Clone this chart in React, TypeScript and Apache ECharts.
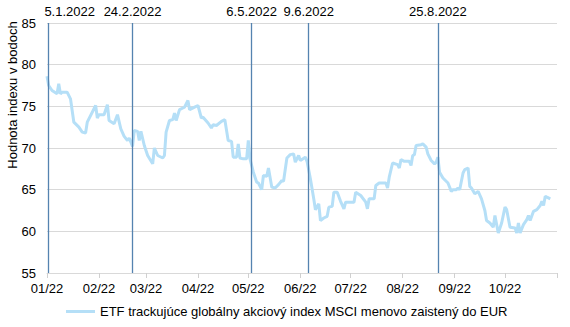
import React, { useEffect, useRef } from "react";
import * as echarts from "echarts";

const seriesName = "ETF trackujúce globálny akciový index MSCI menovo zaistený do EUR";
const yAxisName = "Hodnota indexu v bodoch";

const dates = [
  "2022-01-04","2022-01-05","2022-01-07","2022-01-10","2022-01-11","2022-01-12","2022-01-13","2022-01-16","2022-01-18","2022-01-20","2022-01-23","2022-01-25","2022-01-27","2022-01-28",
  "2022-02-02","2022-02-03","2022-02-04","2022-02-07","2022-02-09","2022-02-10","2022-02-13","2022-02-15","2022-02-17","2022-02-19","2022-02-21","2022-02-22","2022-02-24","2022-02-25","2022-02-27","2022-02-28",
  "2022-03-01","2022-03-03","2022-03-05","2022-03-08","2022-03-09","2022-03-11","2022-03-14","2022-03-15","2022-03-16","2022-03-18","2022-03-20","2022-03-21","2022-03-22","2022-03-24","2022-03-26","2022-03-27","2022-03-29","2022-03-30",
  "2022-04-02","2022-04-04","2022-04-06","2022-04-07","2022-04-10","2022-04-12","2022-04-13","2022-04-15","2022-04-18","2022-04-20","2022-04-22","2022-04-24","2022-04-25","2022-04-27","2022-04-28","2022-04-29",
  "2022-05-01","2022-05-03","2022-05-04","2022-05-05","2022-05-07","2022-05-09","2022-05-10","2022-05-12","2022-05-13","2022-05-15","2022-05-16","2022-05-18","2022-05-20","2022-05-22","2022-05-24","2022-05-25","2022-05-27","2022-05-29","2022-05-31",
  "2022-06-01","2022-06-03","2022-06-04","2022-06-07","2022-06-08","2022-06-10","2022-06-12","2022-06-13","2022-06-15","2022-06-16","2022-06-18","2022-06-20","2022-06-21","2022-06-23","2022-06-24","2022-06-26","2022-06-28","2022-06-30",
  "2022-07-01","2022-07-06","2022-07-07","2022-07-10","2022-07-13","2022-07-14","2022-07-15","2022-07-18","2022-07-19","2022-07-21","2022-07-25","2022-07-26","2022-07-27","2022-07-29",
  "2022-08-01","2022-08-02","2022-08-03","2022-08-05","2022-08-08","2022-08-09","2022-08-10","2022-08-11","2022-08-12","2022-08-15","2022-08-16","2022-08-18","2022-08-19","2022-08-21","2022-08-23","2022-08-24","2022-08-25","2022-08-26","2022-08-28","2022-08-31",
  "2022-09-02","2022-09-03","2022-09-05","2022-09-06","2022-09-07","2022-09-09","2022-09-10","2022-09-12","2022-09-13","2022-09-14","2022-09-16","2022-09-18","2022-09-20","2022-09-22","2022-09-23","2022-09-25","2022-09-27","2022-09-28","2022-09-30",
  "2022-10-02","2022-10-04","2022-10-05","2022-10-07","2022-10-10","2022-10-11","2022-10-12","2022-10-13","2022-10-15","2022-10-17","2022-10-18","2022-10-19","2022-10-21","2022-10-23","2022-10-25","2022-10-26","2022-10-27","2022-10-28","2022-10-29","2022-10-31",
];

const values = [
  78.6,77.5,76.9,76.5,77.7,76.5,76.7,76.7,75.9,73.1,72.5,71.9,71.8,73.1,
  75.1,73.6,74.0,74.0,75.2,73.3,72.9,74.0,72.3,71.4,70.9,71.2,70.2,72.1,72.0,70.9,
  72.0,70.3,69.1,68.1,70.0,69.1,68.8,69.1,71.9,73.3,73.4,74.2,73.3,74.6,74.8,74.9,75.7,74.6,
  74.9,75.1,73.6,73.7,73.0,72.4,72.8,72.7,73.2,73.4,70.9,70.8,68.9,68.9,70.5,68.8,
  68.7,68.7,70.9,68.7,67.1,65.9,65.8,65.0,66.7,66.6,67.6,65.3,65.2,65.6,66.1,66.0,68.8,69.2,69.3,
  68.3,69.1,68.5,68.9,68.4,66.3,63.9,62.6,63.3,61.3,61.6,61.8,62.9,63.0,64.7,64.7,63.6,62.7,
  63.5,63.5,64.7,64.3,63.5,62.7,63.9,63.9,65.5,65.8,65.8,65.2,66.5,68.2,
  68.0,67.6,68.6,68.4,68.4,67.9,69.1,69.2,70.3,70.4,70.5,70.1,69.3,68.5,68.1,68.3,68.9,67.1,66.4,65.8,
  64.8,65.0,65.0,65.2,65.0,67.0,67.4,67.6,65.4,65.2,64.5,64.8,63.9,62.5,61.3,61.0,60.5,61.9,59.8,
  61.0,62.9,62.6,60.5,60.4,59.8,61.0,59.8,60.8,61.4,61.9,61.3,62.4,62.6,63.1,63.6,63.1,64.2,64.1,63.9,
];

const eventDates = ["2022-01-05", "2022-02-24", "2022-05-06", "2022-06-09", "2022-08-25"];
const eventLabels = ["5.1.2022", "24.2.2022", "6.5.2022", "9.6.2022", "25.8.2022"];

const axisStart = "2022-01-04";
const axisEnd = "2022-11-04";
const tickDates = [
  "2022-01-04","2022-02-04","2022-03-04","2022-04-04","2022-05-04","2022-06-04",
  "2022-07-04","2022-08-04","2022-09-04","2022-10-04","2022-11-04",
];
const labelDates = tickDates.slice(0, 10);

const yMin = 55;
const yMax = 85;
const yStep = 5;

const toTime = (s: string) => {
  const [y, m, d] = s.split("-").map(Number);
  return new Date(y, m - 1, d).getTime();
};

const FONT = "'Liberation Sans', Arial, sans-serif";

export default function App() {
  const ref = useRef<HTMLDivElement>(null);

  useEffect(() => {
    if (!ref.current) return;
    const chart = echarts.init(ref.current, undefined, { renderer: "svg" });

    const seriesData = dates.map((d, i) => [toTime(d), values[i]]);
    const markData = eventDates.map((d, i) => ({
      xAxis: toTime(d),
      name: eventLabels[i],
      label: i === 0 ? { offset: [21, 0] } : {},
    }));

    chart.setOption({
      animation: false,
      textStyle: { fontFamily: FONT },
      grid: {
        left: 47,
        right: 13,
        top: 23,
        bottom: 54,
        containLabel: false,
        outerBoundsMode: "none",
      },
      graphic: [
        {
          type: "text",
          x: 12,
          y: 95,
          rotation: Math.PI / 2,
          silent: true,
          style: {
            text: yAxisName,
            fontFamily: FONT,
            fontSize: 13,
            fill: "#000",
            align: "center",
            verticalAlign: "middle",
          },
        },
      ],
      legend: {
        show: true,
        left: 66,
        top: 305,
        padding: 0,
        icon: "rect",
        itemWidth: 29,
        itemHeight: 3,
        data: [seriesName],
        textStyle: { fontFamily: FONT, fontSize: 13, color: "#000" },
      },
      xAxis: {
        type: "value",
        min: toTime(axisStart),
        max: toTime(axisEnd),
        axisLine: { show: true, lineStyle: { color: "#d9d9d9", width: 1 } },
        axisTick: {
          show: true,
          length: 5,
          lineStyle: { color: "#d0d0d0" },
          customValues: tickDates.map(toTime),
        },
        axisLabel: {
          fontFamily: FONT,
          fontSize: 13,
          color: "#000",
          margin: 9,
          hideOverlap: false,
          showMinLabel: true,
          showMaxLabel: true,
          customValues: labelDates.map(toTime),
          formatter: (v: number) => {
            const d = new Date(v);
            return String(d.getMonth() + 1).padStart(2, "0") + "/" + String(d.getFullYear()).slice(2);
          },
        },
        splitLine: { show: false },
      },
      yAxis: {
        type: "value",
        min: yMin,
        max: yMax,
        interval: yStep,
        axisLine: { show: false },
        axisTick: { show: false },
        axisLabel: { fontFamily: FONT, fontSize: 13, color: "#000", margin: 11 },
        splitLine: { show: true, lineStyle: { color: "#d9d9d9", width: 1 } },
      },
      series: [
        {
          name: seriesName,
          type: "line",
          data: seriesData,
          symbol: "none",
          showSymbol: false,
          lineStyle: { color: "#b5dff7", width: 3 },
          itemStyle: { color: "#b5dff7" },
          z: 2,
          markLine: {
            silent: true,
            symbol: ["none", "none"],
            animation: false,
            lineStyle: { color: "#5583b0", width: 1.3, type: "solid" },
            label: {
              show: true,
              position: "end",
              formatter: "{b}",
              fontFamily: FONT,
              fontSize: 13,
              color: "#000",
              distance: 5,
            },
            emphasis: { disabled: true },
            data: markData,
          },
        },
      ],
    });

    return () => chart.dispose();
  }, []);

  return (
    <div
      ref={ref}
      style={{ position: "absolute", left: 0, top: 0, width: 570, height: 327 }}
    />
  );
}
